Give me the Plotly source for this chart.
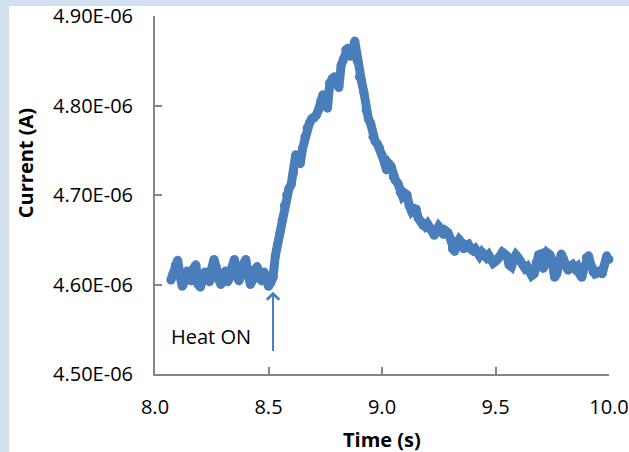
import plotly.graph_objects as go

# ---- data (time in s, current in micro-amps) ----
time_s = [round(8.07 + 0.01 * i, 2) for i in range(194)]
current_uA = [
    4.605, 4.612, 4.622, 4.627, 4.610, 4.598, 4.603, 4.615, 4.612, 4.604,
    4.618, 4.622, 4.600, 4.597, 4.606, 4.614, 4.610, 4.603, 4.618, 4.628,
    4.619, 4.605, 4.600, 4.610, 4.615, 4.603, 4.608, 4.620, 4.628, 4.610,
    4.604, 4.612, 4.624, 4.628, 4.612, 4.600, 4.605, 4.617, 4.620, 4.610,
    4.604, 4.614, 4.608, 4.598, 4.602, 4.608,
    4.632, 4.645, 4.658, 4.672, 4.688, 4.700, 4.707, 4.712, 4.725, 4.745,
    4.742, 4.735, 4.752, 4.765, 4.775, 4.780, 4.785, 4.786, 4.789, 4.795,
    4.805, 4.812, 4.800, 4.797, 4.825, 4.830, 4.832, 4.825, 4.820, 4.845,
    4.852, 4.862, 4.864, 4.855, 4.860, 4.872, 4.850, 4.832, 4.827, 4.815,
    4.795, 4.785, 4.780, 4.765, 4.760, 4.757, 4.752, 4.745, 4.737, 4.728,
    4.735, 4.732, 4.720, 4.716, 4.713, 4.703, 4.699, 4.702, 4.700, 4.688,
    4.682, 4.685, 4.684, 4.674, 4.670, 4.666, 4.665, 4.668, 4.664, 4.660,
    4.655, 4.660, 4.665, 4.662, 4.656, 4.660, 4.658, 4.652, 4.640, 4.637,
    4.645, 4.650, 4.647, 4.640, 4.644, 4.645, 4.640, 4.638, 4.640, 4.636,
    4.632, 4.636, 4.634, 4.630, 4.633, 4.628, 4.624, 4.626, 4.628, 4.632,
    4.636, 4.634, 4.632, 4.622, 4.620, 4.628, 4.633, 4.630, 4.626, 4.622,
    4.618, 4.620, 4.614, 4.610, 4.612, 4.625, 4.633, 4.634, 4.618, 4.624,
    4.635, 4.633, 4.626, 4.608, 4.612, 4.625, 4.634, 4.628, 4.620, 4.616,
    4.620, 4.622, 4.618, 4.620, 4.612, 4.608, 4.618, 4.630, 4.632, 4.622,
    4.614, 4.612, 4.613, 4.615, 4.612, 4.622, 4.632, 4.628,
]
current_A = [v * 1e-6 for v in current_uA]

x_ticks = [8.0, 8.5, 9.0, 9.5, 10.0]
x_ticktext = ["8.0", "8.5", "9.0", "9.5", "10.0"]
y_ticks = [4.50e-6, 4.60e-6, 4.70e-6, 4.80e-6, 4.90e-6]
y_ticktext = ["4.50E-06", "4.60E-06", "4.70E-06", "4.80E-06", "4.90E-06"]

heat_on_time = 8.52

BLUE = "#4a7ebb"
AXIS = "#868686"
FONT = "Open Sans"
FS = 20

fig = go.Figure()
fig.add_trace(go.Scatter(
    x=time_s, y=current_A, mode="lines+markers",
    line=dict(color=BLUE, width=9),
    marker=dict(color=BLUE, size=9, symbol="circle"),
    cliponaxis=False, showlegend=False,
))

axis_common = dict(
    showgrid=False, zeroline=False, showline=True, linecolor=AXIS, linewidth=2,
    ticks="inside", ticklen=7, tickwidth=2, tickcolor=AXIS, automargin=False,
    tickfont=dict(family=FONT, size=FS, color="#000000"),
)
fig.update_xaxes(range=[8.0, 10.0], tickvals=x_ticks, ticktext=x_ticktext,
                 ticklabelstandoff=14, **axis_common)
fig.update_yaxes(range=[4.5e-6, 4.9e-6], tickvals=y_ticks, ticktext=y_ticktext,
                 ticklabelstandoff=16, **axis_common)

fig.add_annotation(x=heat_on_time, y=4.592e-6, ax=heat_on_time, ay=4.524e-6,
                   xref="x", yref="y", axref="x", ayref="y", text="",
                   showarrow=True, arrowhead=4, arrowsize=1.2, arrowwidth=2,
                   arrowcolor=BLUE)
fig.add_annotation(x=8.247, y=4.542e-6, xref="x", yref="y", text="Heat ON",
                   xanchor="center", yanchor="middle", showarrow=False,
                   font=dict(family=FONT, size=FS, color="#000000"))
fig.add_annotation(x=-0.2863, y=0.589, xref="paper", yref="paper",
                   text="<b>Current (A)</b>", textangle=-90, showarrow=False,
                   xanchor="center", yanchor="middle",
                   font=dict(family=FONT, size=FS, color="#000000"))
fig.add_annotation(x=0.5, y=-0.1816, xref="paper", yref="paper",
                   text="<b>Time (s)</b>", showarrow=False,
                   xanchor="center", yanchor="middle",
                   font=dict(family=FONT, size=FS, color="#000000"))

# white panel on light-blue page
fig.add_shape(type="rect", xref="paper", yref="paper",
              x0=-0.3216, x1=1.2, y0=-0.4, y1=1.0279,
              fillcolor="#ffffff", line=dict(width=0), layer="below")

fig.update_layout(
    width=629, height=452,
    margin=dict(l=155, r=20, t=16, b=78, autoexpand=False),
    paper_bgcolor="#d2e1f0", plot_bgcolor="#ffffff",
    font=dict(family=FONT),
)
fig.write_html("out.html", config={"displayModeBar": False},
               post_script="document.body.style.margin='0';document.body.style.overflow='hidden';")
